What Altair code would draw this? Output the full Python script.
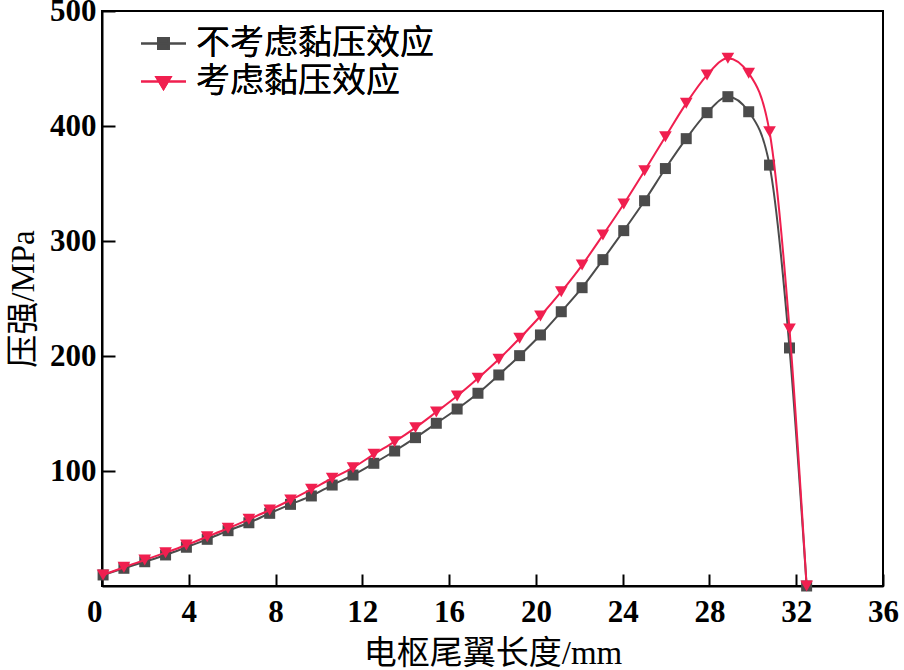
import altair as alt
import pandas as pd

# armature tail-wing length (mm)
x_mm = [0.05, 1.01, 1.97, 2.93, 3.89, 4.85, 5.81, 6.77, 7.73, 8.69, 9.65, 10.61, 11.57,
        12.53, 13.49, 14.45, 15.41, 16.37, 17.33, 18.29, 19.25, 20.21, 21.17, 22.13,
        23.09, 24.05, 25.01, 25.97, 26.93, 27.89, 28.85, 29.81, 30.77, 31.69, 32.48]
# pressure without viscous-pressure effect (MPa)
p_no = [9.6, 15.4, 21.1, 27.0, 33.7, 40.6, 48.1, 55.0, 63.2, 71.0, 78.3, 87.8, 96.5,
        106.7, 117.4, 129.0, 141.5, 153.9, 167.6, 183.5, 200.3, 218.3, 238.5, 259.4,
        283.8, 309.0, 335.0, 363.0, 389.0, 411.6, 425.5, 412.4, 366.0, 207.0, 0.0]
# pressure with viscous-pressure effect (MPa)
p_yes = [9.6, 16.3, 22.6, 29.0, 35.7, 42.9, 50.2, 58.0, 66.1, 74.8, 84.1, 93.7, 102.9,
         114.5, 125.5, 137.7, 151.3, 165.2, 180.6, 197.1, 215.4, 234.8, 255.9, 279.1,
         305.2, 332.2, 361.1, 390.7, 419.7, 444.3, 458.9, 445.8, 395.0, 223.5, 0.0]

name_no = "不考虑黏压效应"
name_yes = "考虑黏压效应"
x_ticks = [0, 4, 8, 12, 16, 20, 24, 28, 32, 36]
y_ticks = [100, 200, 300, 400, 500]

gray = "#4b4b4b"
red = "#f01f4f"

df_no = pd.DataFrame({"x": x_mm, "y": p_no, "s1": name_no})
df_yes = pd.DataFrame({"x": x_mm, "y": p_yes, "s2": name_yes})

serif = "Liberation Serif, Noto Sans CJK SC"

x_enc = alt.X("x:Q", scale=alt.Scale(domain=[0, 36], nice=False, zero=False),
              axis=alt.Axis(values=x_ticks, title="电枢尾翼长度/mm", grid=False,
                            tickSize=alt.ExprRef("-12"), labelPadding=23,
                            labelAlign={"condition": {"test": "datum.value == 0", "value": "right"},
                                        "value": "center"},
                            titlePadding=10, format="d"))
y_enc = alt.Y("y:Q", scale=alt.Scale(domain=[0, 500], nice=False),
              axis=alt.Axis(values=y_ticks, title="压强/MPa", grid=False,
                            tickSize=alt.ExprRef("-13"), labelPadding=19,
                            titlePadding=9, format="d"))

sq_path = "M-1,0H1M-0.24,-0.24H0.24V0.24H-0.24Z"
tri_path = "M-1,0H1M-0.32,-0.2L0.32,-0.2L0,0.34Z"

leg_common = dict(title=None, orient="none", symbolSize=2025, symbolStrokeWidth=2,
                  labelFont="Noto Sans CJK SC", labelFontSize=34, labelColor="black",
                  labelOffset=9, labelLimit=0, padding=0)
leg_no = alt.Legend(legendX=38, legendY=9, symbolType=sq_path,
                    symbolFillColor=gray, symbolStrokeColor=gray, **leg_common)
leg_yes = alt.Legend(legendX=38, legendY=47, symbolType=tri_path,
                     symbolFillColor=red, symbolStrokeColor=red, **leg_common)

c_no = alt.Color("s1:N", scale=alt.Scale(domain=[name_no], range=[gray]), legend=leg_no)
c_yes = alt.Color("s2:N", scale=alt.Scale(domain=[name_yes], range=[red]), legend=leg_yes)

line_no = alt.Chart(df_no).mark_line(strokeWidth=2, interpolate="monotone").encode(
    x=x_enc, y=y_enc, color=c_no)
pt_no = alt.Chart(df_no).mark_point(shape="square", filled=True, size=121, opacity=1).encode(
    x=x_enc, y=y_enc, color=c_no)
line_yes = alt.Chart(df_yes).mark_line(strokeWidth=2, interpolate="monotone").encode(
    x=x_enc, y=y_enc, color=c_yes)
pt_yes = alt.Chart(df_yes).mark_point(shape="triangle-down", filled=True, size=160, opacity=1).encode(
    x=x_enc, y=y_enc, color=c_yes)

chart = alt.layer(line_no, pt_no, line_yes, pt_yes).resolve_scale(
    color="independent"
).properties(
    width=781, height=575,
    autosize=alt.AutoSizeParams(type="none"),
    padding={"left": 102, "top": 11, "right": 21, "bottom": 84},
    background="white",
).configure_view(
    stroke="black", strokeWidth=2
).configure_axis(
    domainColor="black", domainWidth=2, tickColor="black", tickWidth=2,
    labelFont=serif, labelFontSize=31, labelFontWeight="bold", labelColor="black",
    titleFont=serif, titleFontSize=33, titleColor="black", titleFontWeight="normal",
)

chart.save("out.html", embed_options={"renderer": "svg", "actions": False})
